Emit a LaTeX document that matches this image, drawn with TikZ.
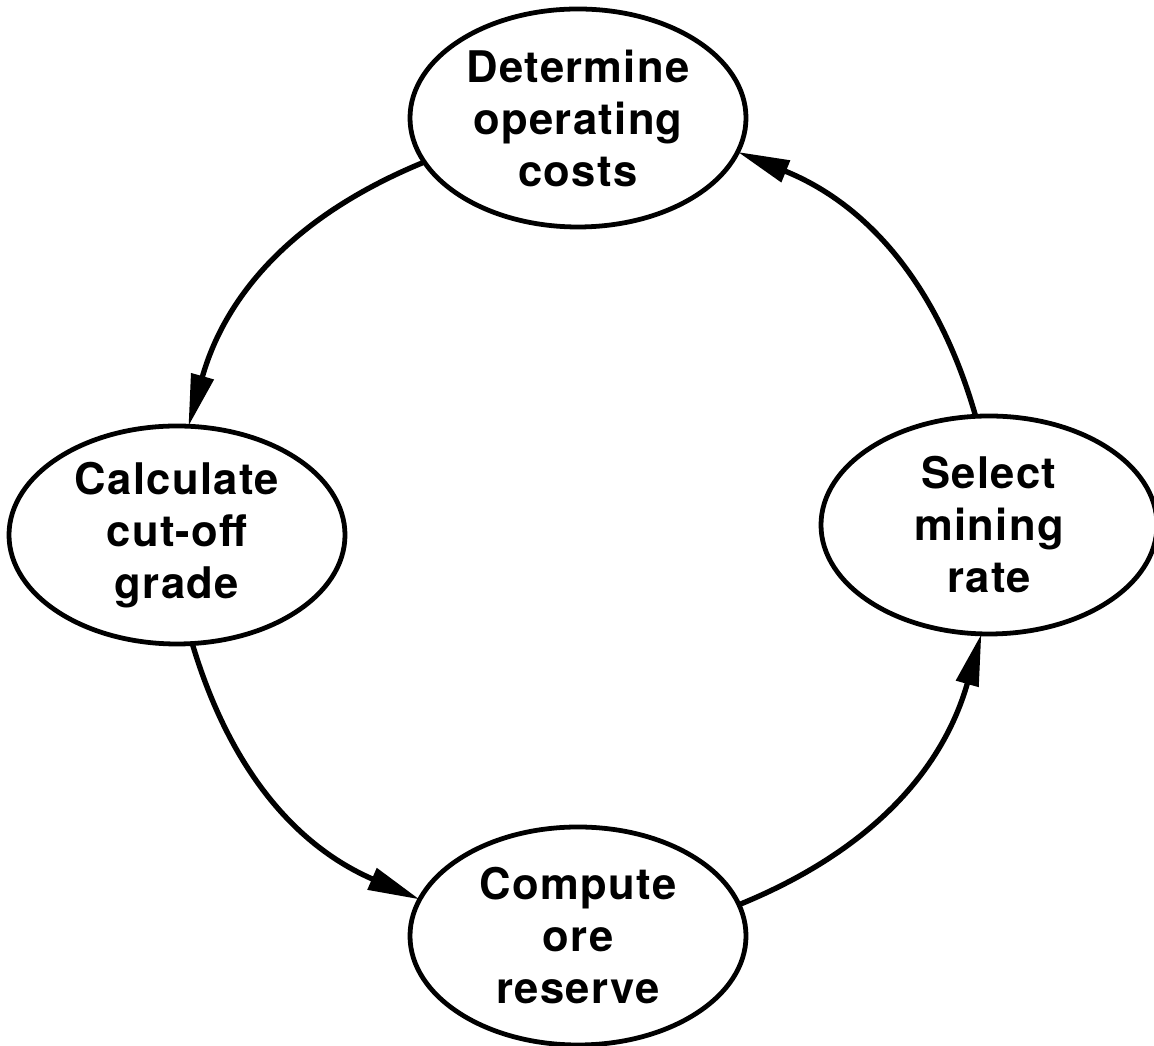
\documentclass[tikz,border=0pt]{standalone}
\usepackage{fontspec}
\setmainfont{TeX Gyre Heros}[LetterSpace=3]
\usetikzlibrary{arrows.meta, shapes.geometric}

\begin{document}
\begin{tikzpicture}[
    stage/.style={draw, ellipse, line width=3.4pt, minimum width=8.4cm,
                  minimum height=5.45cm, inner sep=0pt, outer sep=0pt,
                  align=center, font=\fontsize{31}{37}\selectfont\bfseries},
    cycle arrow/.style={line width=3.8pt,
                        -{Triangle[length=13mm, width=5.6mm]}}
  ]
  \useasboundingbox (0,0) rectangle (28.85,26.15);
  % the four stages
  \node[stage] (costs)   at (14.45,23.2)   {Determine\\operating\\costs};
  \node[stage] (cutoff)  at (4.425,12.775) {Calculate\\cut-off\\grade};
  \node[stage] (rate)    at (24.725,13.025){Select\\mining\\rate};
  \node[stage] (reserve) at (14.45,2.75)   {Compute\\ore\\reserve};
  % arcs of the loop
  \draw[cycle arrow] (costs.196)  to[bend right=26] (cutoff.84);
  \draw[cycle arrow] (cutoff.278) to[bend right=25] (reserve.167);
  \draw[cycle arrow] (reserve.11) to[bend right=26] (rate.266);
  \draw[cycle arrow] (rate.97)    to[bend right=26] (costs.348);
\end{tikzpicture}
\end{document}
